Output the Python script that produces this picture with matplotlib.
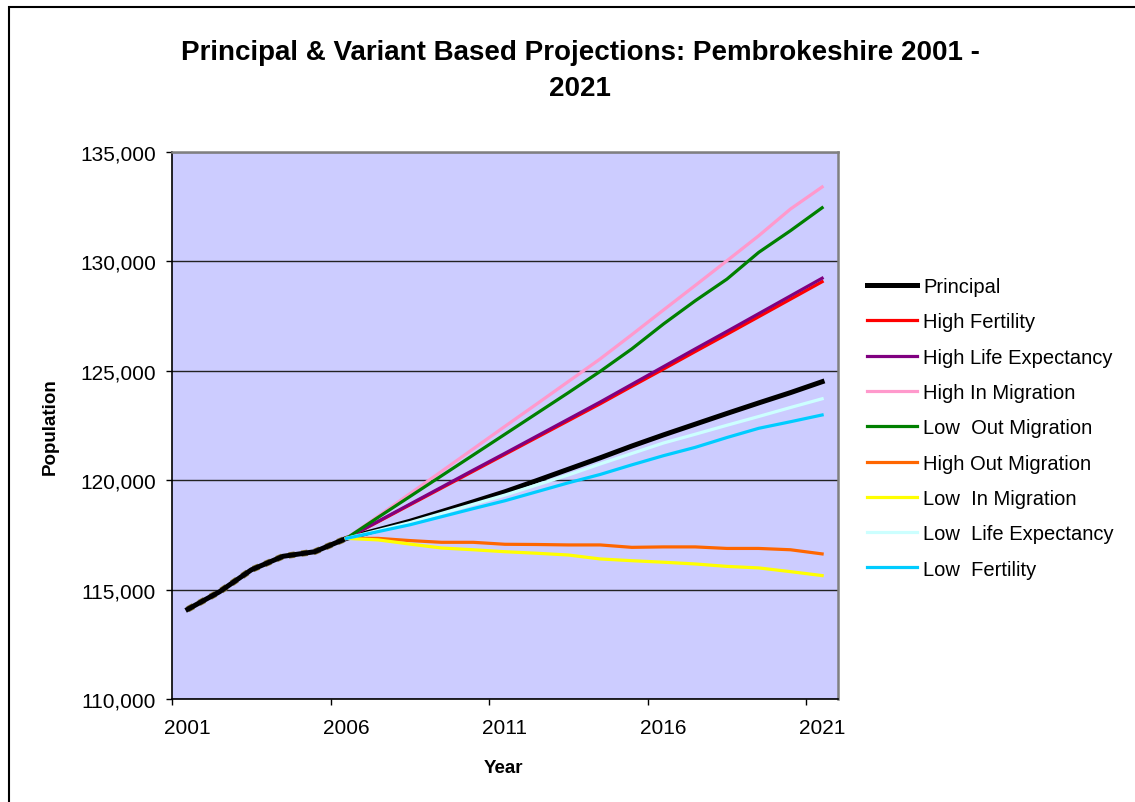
import matplotlib.pyplot as plt
import matplotlib.patches as patches
from matplotlib.ticker import FuncFormatter

plt.rcParams['font.family'] = ['Liberation Sans', 'DejaVu Sans']

# years on the category axis
years = list(range(2001, 2022))
proj_years = list(range(2006, 2022))

# principal projection incl. 2001-2006 history
principal = [114100, 114900, 115900, 116520, 116730, 117340, 117730, 118120, 118560, 119010,
             119470, 119980, 120500, 121020, 121560, 122070, 122560, 123050, 123530, 124000, 124500]

# variant projections, 2006-2021
high_fertility = [117340, 118100, 118870, 119640, 120410, 121180, 121950, 122720,
                  123490, 124290, 125080, 125880, 126670, 127470, 128270, 129070]
high_life_exp = [117340, 118120, 118900, 119680, 120460, 121230, 122010, 122790,
                 123570, 124380, 125190, 126000, 126800, 127610, 128420, 129230]
high_in_migr = [117340, 118350, 119380, 120400, 121430, 122460, 123480, 124510,
                125540, 126650, 127780, 128900, 130030, 131170, 132390, 133400]
low_out_migr = [117340, 118300, 119250, 120200, 121150, 122100, 123050, 124000,
                124970, 126000, 127140, 128200, 129190, 130410, 131400, 132450]
high_out_migr = [117340, 117340, 117240, 117160, 117160, 117070, 117060, 117040,
                 117040, 116930, 116950, 116950, 116880, 116880, 116820, 116630]
low_in_migr = [117340, 117270, 117080, 116900, 116820, 116730, 116660, 116580,
               116400, 116320, 116250, 116170, 116060, 115990, 115820, 115640]
low_life_exp = [117340, 117700, 118060, 118480, 118900, 119320, 119780, 120240,
                120740, 121220, 121700, 122100, 122510, 122910, 123320, 123720]
low_fertility = [117340, 117650, 117960, 118330, 118700, 119060, 119470, 119880,
                 120260, 120700, 121120, 121500, 121950, 122370, 122670, 122980]

variants = [
    ("High Fertility", high_fertility, "#FF0000"),
    ("High Life Expectancy", high_life_exp, "#800080"),
    ("High In Migration", high_in_migr, "#FF99CC"),
    ("Low  Out Migration", low_out_migr, "#008000"),
    ("High Out Migration", high_out_migr, "#FF6600"),
    ("Low  In Migration", low_in_migr, "#FFFF00"),
    ("Low  Life Expectancy", low_life_exp, "#CCFFFF"),
    ("Low  Fertility", low_fertility, "#00CCFF"),
]

fig = plt.figure(figsize=(11.35, 8.03), dpi=100)
ax = fig.add_axes([0.1515, 0.1283, 0.5868, 0.6812])
ax.set_facecolor("#CCCCFF")

# category positions
x_all = [years.index(y) for y in years]
x_proj = [years.index(y) for y in proj_years]

# dotted edge on the historical part, then principal on top
n_hist = years.index(2006) + 1
ax.plot(x_all[:n_hist], principal[:n_hist], color="#8a7a3a", lw=4.6, ls=(0, (1, 1)), zorder=2)
ax.plot(x_all, principal, color="black", lw=3.6, label="Principal", zorder=3)
for name, vals, col in variants:
    ax.plot(x_proj, vals, color=col, lw=2.3, label=name, zorder=3)

# axes
ax.set_xlim(-0.5, len(years) - 0.5)
ax.set_ylim(110000, 135000)
ax.set_yticks([110000, 115000, 120000, 125000, 130000, 135000])
ax.yaxis.set_major_formatter(FuncFormatter(lambda v, p: f"{v:,.0f}"))
ax.grid(axis="y", color="#222222", lw=1)
ax.set_axisbelow(True)

ax.set_xticks([i - 0.5 for i in range(0, len(years), 5)])
ax.set_xticklabels([])
ax.set_xticks(list(range(0, len(years), 5)), minor=True)
ax.set_xticklabels([str(years[i]) for i in range(0, len(years), 5)], minor=True)
ax.tick_params(axis="x", which="major", direction="out", length=4.5, width=1)
ax.tick_params(axis="x", which="minor", length=0, pad=14, labelsize=15)
ax.tick_params(axis="y", direction="out", length=4.5, width=1, pad=7, labelsize=15)

for s in ["left", "bottom"]:
    ax.spines[s].set_color("black")
    ax.spines[s].set_linewidth(1.2)
for s in ["top", "right"]:
    ax.spines[s].set_color("#808080")
    ax.spines[s].set_linewidth(1.8)

# titles
fig.text(0.511, 1 - 70.5 / 803, "Principal & Variant Based Projections: Pembrokeshire 2001 -\n2021",
         ha="center", va="center", fontsize=20, fontweight="bold", linespacing=1.5)
fig.text(503 / 1135, 1 - 769 / 803, "Year", ha="center", va="center", fontsize=13.5, fontweight="bold")
fig.text(50 / 1135, 1 - 426.5 / 803, "Population", ha="center", va="center", rotation=90,
         fontsize=13.5, fontweight="bold")

# legend
fig.legend(loc="upper left", bbox_to_anchor=(867 / 1135, 1 - 278 / 803), frameon=False,
           fontsize=14.5, handlelength=2.49, handletextpad=0.3, labelspacing=0.81,
           borderpad=0, borderaxespad=0)

# outer border of the chart
fig.patches.append(patches.Rectangle((9 / 1135, -0.1), 2, 1 - 8 / 803 + 0.1, transform=fig.transFigure,
                                     fill=False, edgecolor="black", lw=1.5, figure=fig))

plt.savefig("out.png", dpi=100)
